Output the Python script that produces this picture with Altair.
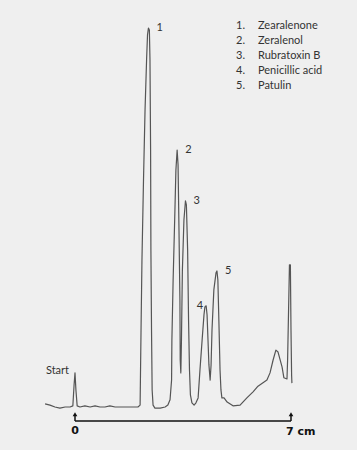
import altair as alt
import pandas as pd

# ---- chromatogram trace: migration distance (cm) vs detector signal (% of largest peak)
trace_cm = [-0.97, -0.81, -0.65, -0.49, -0.32, -0.16, -0.07, -0.03, 0.00, 0.03, 0.07,
            0.16, 0.32, 0.49, 0.65, 0.81, 0.97, 1.13, 1.30, 1.46, 1.62, 1.78, 1.94, 2.04,
            2.11, 2.12, 2.14, 2.17, 2.22, 2.27, 2.32, 2.35, 2.38, 2.41, 2.43, 2.45, 2.46,
            2.48, 2.50, 2.53, 2.59, 2.76, 2.92, 3.01,
            3.08, 3.13, 3.14, 3.18, 3.23, 3.27, 3.31, 3.34, 3.37, 3.40, 3.41, 3.43, 3.45,
            3.48, 3.53, 3.58, 3.61, 3.65, 3.68, 3.71, 3.74, 3.79, 3.86, 3.92,
            3.99, 4.05, 4.12, 4.18, 4.21, 4.25, 4.28, 4.31, 4.34, 4.38, 4.41, 4.44, 4.50,
            4.57, 4.60, 4.63, 4.67, 4.70, 4.73, 4.76, 4.83, 4.93, 5.12, 5.35, 5.57, 5.77,
            5.93, 6.22, 6.32, 6.42, 6.51, 6.58, 6.71, 6.77, 6.87, 6.89, 6.95, 6.98, 7.00,
            7.02, 7.03]
trace_signal = [0.8, 0.5, 0.0, -0.3, 0.0, 0.0, 0.3, 5.8, 9.0, 4.5, 0.3,
                0.0, 0.3, 0.0, 0.3, 0.0, 0.0, 0.3, 0.0, 0.0, 0.0, 0.0, 0.0, 0.0,
                0.5, 7.1, 20.3, 38.8, 59.9, 78.4, 91.6, 98.2, 100.0, 99.5, 91.6, 67.8, 41.4,
                20.3, 4.5, 0.5, -0.3, -0.3, 0.0, 0.5,
                1.9, 7.1, 17.7, 33.5, 49.3, 62.5, 67.8, 63.9, 46.7, 28.2, 12.4, 9.0, 17.7,
                36.1, 49.3, 54.4, 53.3, 41.4, 23.0, 9.8, 3.2, 1.1, 0.5, 1.1,
                2.4, 9.8, 17.7, 24.3, 26.4, 26.7, 24.3, 17.7, 11.1, 7.1, 11.1, 20.3, 30.9,
                35.4, 35.9, 33.5, 20.3, 9.8, 4.5, 2.4, 2.4, 1.3, 0.3, 0.5, 2.4, 4.0,
                5.5, 7.1, 9.0, 12.4, 15.0, 14.5, 10.6, 7.7, 7.4, 12.4, 37.5, 37.5, 20.3,
                8.4, 6.3]

# ---- peak labels
peak_ids = ["1", "2", "3", "4", "5"]
peak_cm = [2.38, 3.31, 3.58, 4.25, 4.60]
peak_signal = [100.0, 67.8, 54.4, 26.7, 35.9]

# ---- legend
legend_nums = ["1.", "2.", "3.", "4.", "5."]
compounds = ["Zearalenone", "Zeralenol", "Rubratoxin B", "Penicillic acid", "Patulin"]

# ---- distance scale
start_label = "Start"
axis_start_cm = 0
axis_end_cm = 7
axis_labels = ["0", "7 cm"]

W, H = 357, 450
xs = alt.Scale(domain=[-2.4306, 9.139], nice=False, zero=False)
ys = alt.Scale(domain=[-11.35, 107.39], nice=False, zero=False)
FONT = "Lato"
TXT = "#333333"

trace_df = pd.DataFrame({"cm": trace_cm, "signal": trace_signal,
                         "i": list(range(len(trace_cm)))})
line = alt.Chart(trace_df).mark_line(
    color="#555555", strokeWidth=1.2, strokeJoin="round"
).encode(
    x=alt.X("cm:Q", scale=xs, axis=None),
    y=alt.Y("signal:Q", scale=ys, axis=None),
    order="i:Q",
)

peaks_df = pd.DataFrame({"id": peak_ids, "cm": peak_cm, "signal": peak_signal})
peak_base = alt.Chart(peaks_df).encode(
    x=alt.X("cm:Q", scale=xs), y=alt.Y("signal:Q", scale=ys), text="id:N")
labels_right = peak_base.transform_filter("datum.id != '4'").mark_text(
    align="left", baseline="middle", dx=8, fontSize=11, font=FONT, color=TXT)
labels_left = peak_base.transform_filter("datum.id == '4'").mark_text(
    align="right", baseline="middle", dx=-3, fontSize=11, font=FONT, color=TXT)

start_df = pd.DataFrame({"cm": [axis_start_cm], "signal": [0.0], "t": [start_label]})
start_txt = alt.Chart(start_df).mark_text(
    align="right", baseline="middle", dx=-6, dy=-36, fontSize=11, font=FONT, color=TXT
).encode(x=alt.X("cm:Q", scale=xs), y=alt.Y("signal:Q", scale=ys), text="t:N")

leg_df = pd.DataFrame({"num": legend_nums, "name": compounds,
                       "row": list(range(len(compounds)))})
leg_base = alt.Chart(leg_df).transform_calculate(
    ly="100.5 - 3.96 * datum.row")
leg_nums = leg_base.mark_text(
    align="right", baseline="middle", fontSize=11, font=FONT, color=TXT
).encode(x=alt.value(245), y=alt.Y("ly:Q", scale=ys), text="num:N")
leg_names = leg_base.mark_text(
    align="left", baseline="middle", fontSize=11, font=FONT, color=TXT
).encode(x=alt.value(258), y=alt.Y("ly:Q", scale=ys), text="name:N")

# distance axis with arrows
AXY = -3.7
axis_df = pd.DataFrame({"a": [axis_start_cm], "b": [axis_end_cm], "y": [AXY]})
hline = alt.Chart(axis_df).mark_rule(color="#111111", strokeWidth=1.3).encode(
    x=alt.X("a:Q", scale=xs), x2="b:Q", y=alt.Y("y:Q", scale=ys))
ends_df = pd.DataFrame({"cm": [axis_start_cm, axis_end_cm], "y": [AXY, AXY],
                        "y2": [-1.9, -1.9], "lab": axis_labels})
vlines = alt.Chart(ends_df).mark_rule(color="#111111", strokeWidth=1.5).encode(
    x=alt.X("cm:Q", scale=xs), y=alt.Y("y:Q", scale=ys), y2="y2:Q")
heads = alt.Chart(ends_df).mark_point(
    shape="triangle-up", filled=True, size=22, color="#111111", opacity=1
).encode(x=alt.X("cm:Q", scale=xs), y=alt.Y("y2:Q", scale=ys))
lab0 = alt.Chart(ends_df).transform_filter("datum.cm == 0").mark_text(
    align="center", baseline="middle", dy=10, fontSize=11, fontWeight="bold",
    font="DejaVu Sans", color="#111111"
).encode(x=alt.X("cm:Q", scale=xs), y=alt.Y("y:Q", scale=ys), text="lab:N")
lab7 = alt.Chart(ends_df).transform_filter("datum.cm == 7").mark_text(
    align="left", baseline="middle", dx=-5, dy=11, fontSize=11, fontWeight="bold",
    font="DejaVu Sans", color="#111111"
).encode(x=alt.X("cm:Q", scale=xs), y=alt.Y("y:Q", scale=ys), text="lab:N")

chart = alt.layer(
    line, labels_right, labels_left, start_txt, leg_nums, leg_names,
    hline, vlines, heads, lab0, lab7
).properties(
    width=W, height=H, background="#ffffff",
    padding={"left": 0, "top": 0, "right": 4, "bottom": 0},
    autosize=alt.AutoSizeParams(type="none"),
).configure_view(stroke=None, fill="#efefef")

chart.save("out.html", embed_options={"renderer": "svg", "actions": False})
